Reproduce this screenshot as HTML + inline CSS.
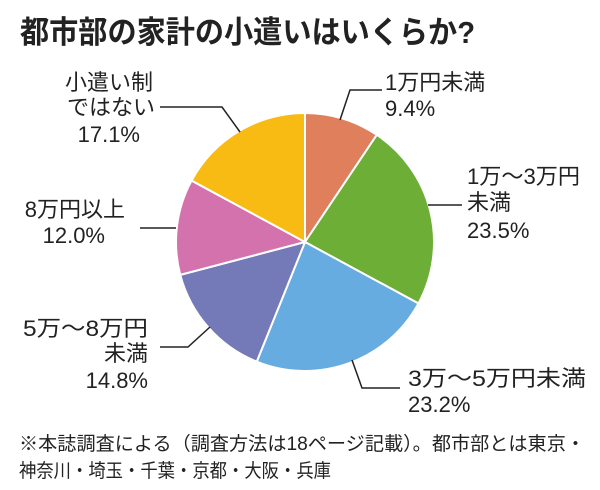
<!DOCTYPE html>
<html><head><meta charset="utf-8"><style>
html,body{margin:0;padding:0;background:#fff;}
svg{display:block;font-family:"Liberation Sans","Noto Sans CJK JP",sans-serif;}
</style></head><body>
<svg width="600" height="490" viewBox="0 0 600 490">
<text x="20" y="43" font-size="31" font-weight="bold" fill="#222" textLength="455" lengthAdjust="spacingAndGlyphs">都市部の家計の小遣いはいくらか?</text>
<g id="slices"></g>
<g stroke="#222" stroke-width="1.5" fill="none">
<polyline points="340,120 350,90 382,90"/>
<polyline points="428,205 462,205"/>
<polyline points="352,360 362,388 400,388"/>
<polyline points="210,327 188,347 160,347"/>
<polyline points="176,228 140,228"/>
<polyline points="240,132 222,107 160,107"/>
</g>
<g font-size="22" fill="#222">
<text x="385" y="90">1万円未満</text>
<text x="385" y="116">9.4%</text>
<text x="467" y="184" textLength="113" lengthAdjust="spacingAndGlyphs">1万〜3万円</text>
<text x="467" y="210">未満</text>
<text x="467" y="238">23.5%</text>
<text x="408" y="386" textLength="178" lengthAdjust="spacingAndGlyphs">3万〜5万円未満</text>
<text x="408" y="412">23.2%</text>
<text x="148" y="336" text-anchor="end" textLength="125" lengthAdjust="spacingAndGlyphs">5万〜8万円</text>
<text x="148" y="361" text-anchor="end">未満</text>
<text x="148" y="388" text-anchor="end">14.8%</text>
<text x="125" y="217" text-anchor="end">8万円以上</text>
<text x="105" y="243" text-anchor="end">12.0%</text>
<text x="153" y="90" text-anchor="end">小遣い制</text>
<text x="155" y="115" text-anchor="end">ではない</text>
<text x="140" y="142" text-anchor="end">17.1%</text>
</g>
<text x="19" y="450" font-size="19" fill="#222" textLength="566" lengthAdjust="spacingAndGlyphs">※本誌調査による（調査方法は18ページ記載）。都市部とは東京・</text>
<text x="19" y="477" font-size="19" fill="#222" textLength="312" lengthAdjust="spacingAndGlyphs">神奈川・埼玉・千葉・京都・大阪・兵庫</text>
</svg>
<script>
const categories = ["1万円未満","1万〜3万円未満","3万〜5万円未満","5万〜8万円未満","8万円以上","小遣い制ではない"];
const values = [9.4, 23.5, 23.2, 14.8, 12.0, 17.1];
const colors = ["#e07f5b","#6cae36","#66ace0","#7479b8","#d472ad","#f8bb14"];
const cx = 305, cy = 242, r = 129;
const g = document.getElementById('slices');
const total = values.reduce((a,b)=>a+b,0);
let acc = 0;
values.forEach((v,i)=>{
  const a0 = acc/total*2*Math.PI - Math.PI/2;
  acc += v;
  const a1 = acc/total*2*Math.PI - Math.PI/2;
  const large = (a1-a0) > Math.PI ? 1 : 0;
  const x0 = cx + r*Math.cos(a0), y0 = cy + r*Math.sin(a0);
  const x1 = cx + r*Math.cos(a1), y1 = cy + r*Math.sin(a1);
  const p = document.createElementNS('http://www.w3.org/2000/svg','path');
  p.setAttribute('d', `M${cx},${cy} L${x0},${y0} A${r},${r} 0 ${large} 1 ${x1},${y1} Z`);
  p.setAttribute('fill', colors[i]);
  p.setAttribute('stroke', '#fff');
  p.setAttribute('stroke-width', '2');
  
  
  g.appendChild(p);
});
</script>
</body></html>
